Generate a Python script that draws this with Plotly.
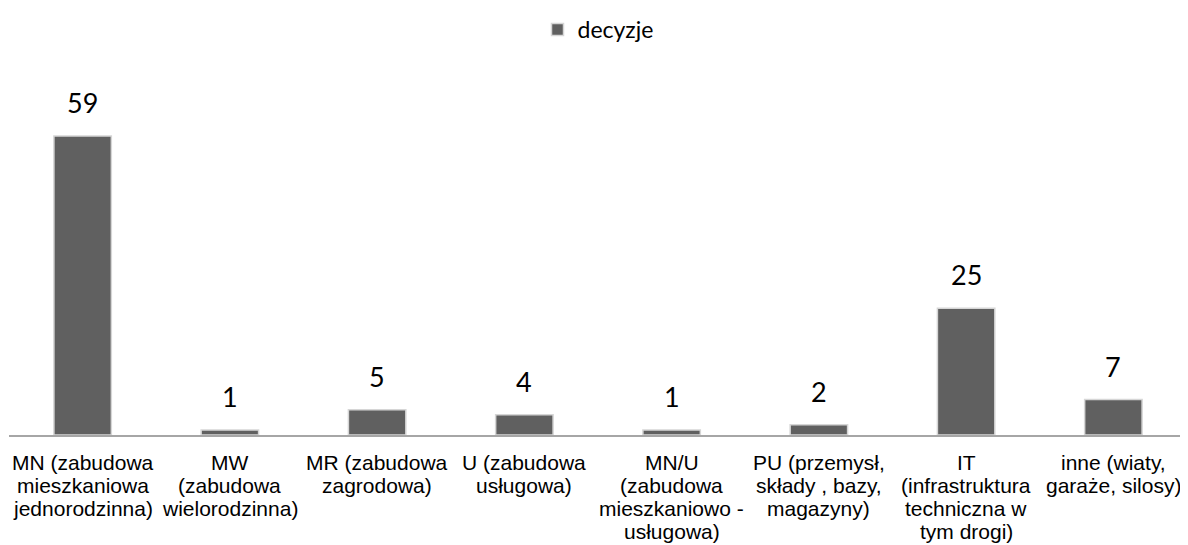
import plotly.graph_objects as go

# dane z wykresu
kategorie = ["MN", "MW", "MR", "U", "MN/U", "PU", "IT", "inne"]
etykiety = [
    ["MN (zabudowa", "mieszkaniowa", "jednorodzinna)"],
    ["MW", "(zabudowa", "wielorodzinna)"],
    ["MR (zabudowa", "zagrodowa)"],
    ["U (zabudowa", "usługowa)"],
    ["MN/U", "(zabudowa", "mieszkaniowo -", "usługowa)"],
    ["PU (przemysł,", "składy , bazy,", "magazyny)"],
    ["IT", "(infrastruktura", "techniczna w", "tym drogi)"],
    ["inne (wiaty,", "garaże, silosy)"],
]
decyzje = [59, 1, 5, 4, 1, 2, 25, 7]

fig = go.Figure()

fig.add_trace(go.Bar(
    x=kategorie,
    y=decyzje,
    name="decyzje",
    marker=dict(color="#606060", line=dict(color="#d6d6d6", width=1.5)),
    hovertext=[" ".join(e) for e in etykiety],
    hoverinfo="text+y",
    showlegend=True,
))

# etykiety wartości nad słupkami
annotations = [
    dict(
        x=k, y=v, xref="x", yref="y",
        text=str(v), showarrow=False,
        yanchor="bottom", yshift=15,
        font=dict(family="Lato", size=27, color="black"),
    )
    for k, v in zip(kategorie, decyzje)
]

# opisy kategorii pod osią (linia po linii, żeby dopasować odstępy)
for k, linie in zip(kategorie, etykiety):
    for i, linia in enumerate(linie):
        annotations.append(dict(
            x=k, y=0, xref="x", yref="y",
            text=linia, showarrow=False,
            yanchor="middle", yshift=-(27 + 23.2 * i),
            font=dict(family="Liberation Sans", size=21, color="black"),
        ))

# strona ma 8px marginesu body, więc figura jest odpowiednio mniejsza
fig.update_layout(
    width=1180, height=537,
    margin=dict(l=1, r=1, t=92, b=110),
    plot_bgcolor="white",
    paper_bgcolor="white",
    bargap=0.61,
    annotations=annotations,
    legend=dict(
        orientation="h",
        x=0.5, xanchor="center",
        y=1.0, yref="container", yanchor="top",
        font=dict(family="Lato", size=23, color="black"),
        itemwidth=30,
    ),
    xaxis=dict(
        showline=True, linecolor="#a6a6a6", linewidth=2,
        showgrid=False, ticks="", showticklabels=False,
        automargin=False,
    ),
    yaxis=dict(
        range=[0, 66.1], visible=False, showgrid=False, zeroline=False,
    ),
)

fig.write_html("out.html")
